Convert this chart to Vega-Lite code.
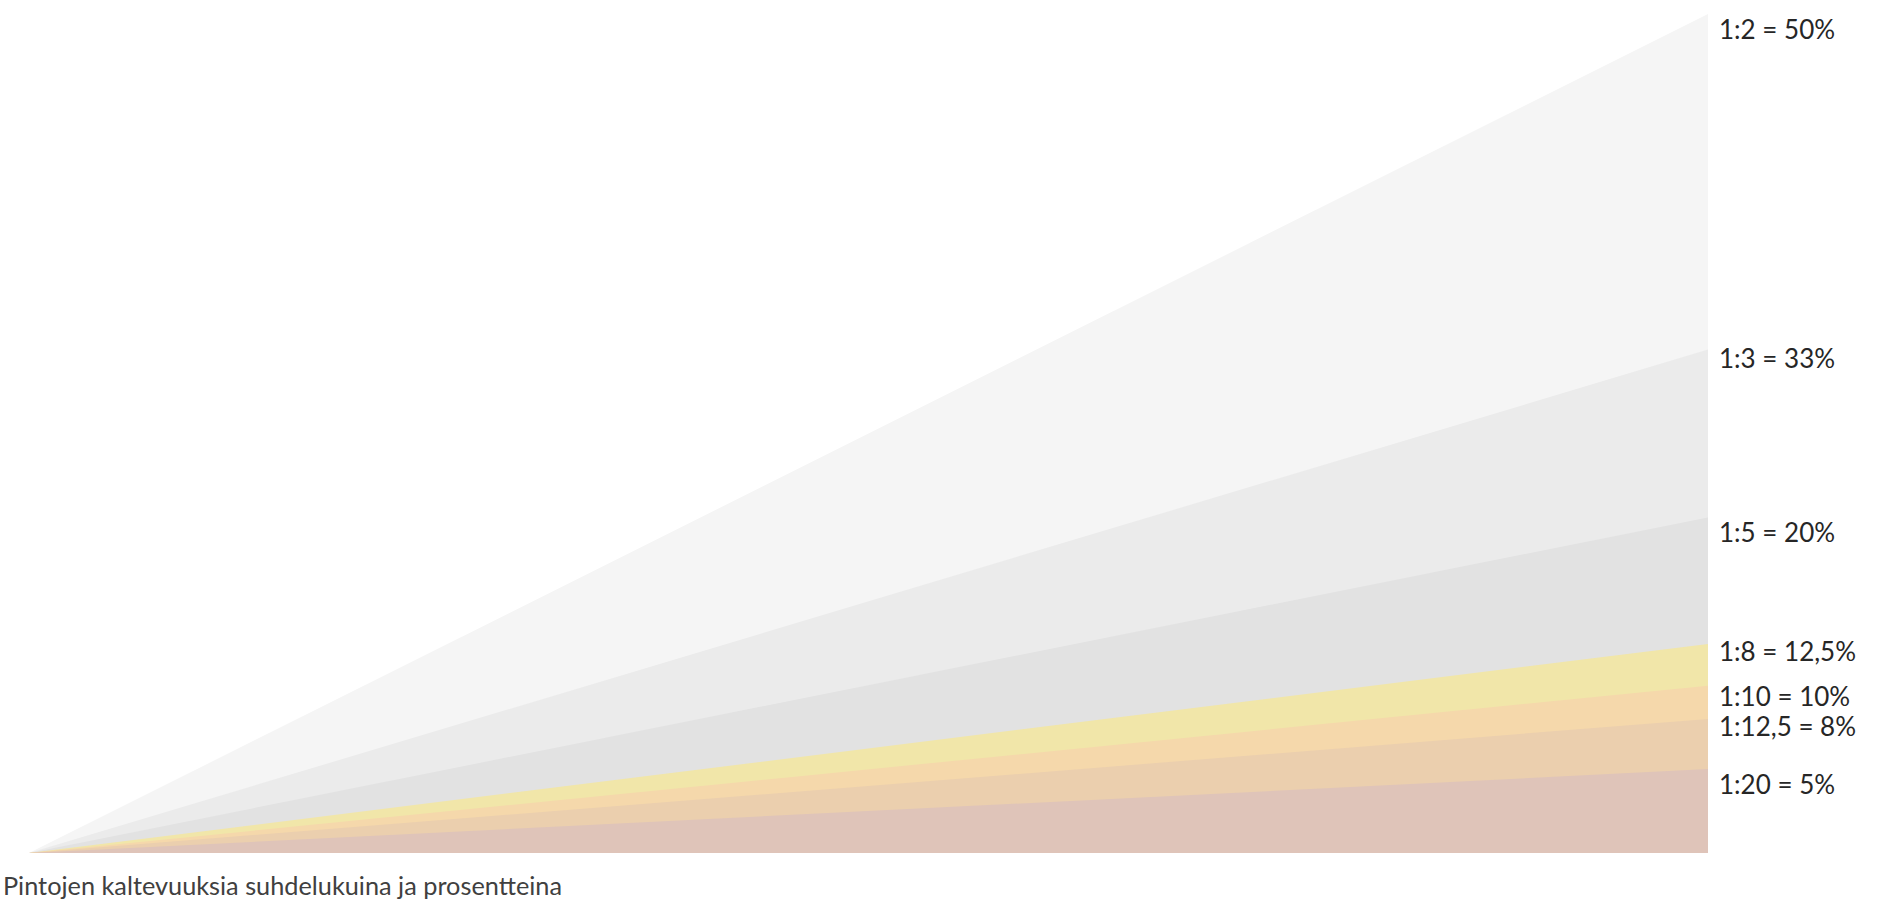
{
  "$schema": "https://vega.github.io/schema/vega-lite/v6.json",
  "autosize": "none",
  "width": 1679,
  "height": 839,
  "padding": {"left": 29, "top": 14, "right": 176, "bottom": 51},
  "background": "white",
  "config": {"view": {"stroke": null}},
  "title": {
    "text": "Pintojen kaltevuuksia suhdelukuina ja prosentteina",
    "orient": "bottom",
    "anchor": "start",
    "frame": "group",
    "dx": -26,
    "offset": 22,
    "font": "Lato",
    "fontSize": 25.3,
    "fontWeight": "normal",
    "color": "#404040"
  },
  "data": {
    "values": [
      {"series": "1:2 = 50%", "x": 0, "y": 0},
      {"series": "1:2 = 50%", "x": 1, "y": 0.5},
      {"series": "1:3 = 33%", "x": 0, "y": 0},
      {"series": "1:3 = 33%", "x": 1, "y": 0.30},
      {"series": "1:5 = 20%", "x": 0, "y": 0},
      {"series": "1:5 = 20%", "x": 1, "y": 0.20},
      {"series": "1:8 = 12,5%", "x": 0, "y": 0},
      {"series": "1:8 = 12,5%", "x": 1, "y": 0.1246},
      {"series": "1:10 = 10%", "x": 0, "y": 0},
      {"series": "1:10 = 10%", "x": 1, "y": 0.0997},
      {"series": "1:12,5 = 8%", "x": 0, "y": 0},
      {"series": "1:12,5 = 8%", "x": 1, "y": 0.0799},
      {"series": "1:20 = 5%", "x": 0, "y": 0},
      {"series": "1:20 = 5%", "x": 1, "y": 0.050}
    ]
  },
  "encoding": {
    "x": {"field": "x", "type": "quantitative", "axis": null, "scale": {"domain": [0, 1], "nice": false}},
    "y": {"field": "y", "type": "quantitative", "axis": null, "scale": {"domain": [0, 0.5], "nice": false}}
  },
  "layer": [
    {"transform": [{"filter": "datum.series == '1:2 = 50%'"}], "mark": {"type": "area", "color": "#f5f5f5", "opacity": 1}},
    {"transform": [{"filter": "datum.series == '1:3 = 33%'"}], "mark": {"type": "area", "color": "#ebebeb", "opacity": 1}},
    {"transform": [{"filter": "datum.series == '1:5 = 20%'"}], "mark": {"type": "area", "color": "#e2e2e2", "opacity": 1}},
    {"transform": [{"filter": "datum.series == '1:8 = 12,5%'"}], "mark": {"type": "area", "color": "#f1e6a9", "opacity": 1}},
    {"transform": [{"filter": "datum.series == '1:10 = 10%'"}], "mark": {"type": "area", "color": "#f5d8ab", "opacity": 1}},
    {"transform": [{"filter": "datum.series == '1:12,5 = 8%'"}], "mark": {"type": "area", "color": "#ebcfae", "opacity": 1}},
    {"transform": [{"filter": "datum.series == '1:20 = 5%'"}], "mark": {"type": "area", "color": "#dfc4b9", "opacity": 1}},
    {
      "transform": [{"filter": "datum.x == 1 && datum.series == '1:2 = 50%'"}],
      "mark": {"type": "text", "align": "left", "baseline": "top", "dx": 11, "dy": 4, "font": "Lato", "fontSize": 26, "color": "#262626"},
      "encoding": {"text": {"field": "series"}}
    },
    {
      "transform": [{"filter": "datum.x == 1 && datum.series == '1:3 = 33%'"}],
      "mark": {"type": "text", "align": "left", "baseline": "top", "dx": 11, "dy": -3, "font": "Lato", "fontSize": 26, "color": "#262626"},
      "encoding": {"text": {"field": "series"}}
    },
    {
      "transform": [{"filter": "datum.x == 1 && datum.series == '1:5 = 20%'"}],
      "mark": {"type": "text", "align": "left", "baseline": "top", "dx": 11, "dy": 4, "font": "Lato", "fontSize": 26, "color": "#262626"},
      "encoding": {"text": {"field": "series"}}
    },
    {
      "transform": [{"filter": "datum.x == 1 && datum.series == '1:8 = 12,5%'"}],
      "mark": {"type": "text", "align": "left", "baseline": "top", "dx": 11, "dy": -4, "font": "Lato", "fontSize": 26, "color": "#262626"},
      "encoding": {"text": {"field": "series"}}
    },
    {
      "transform": [{"filter": "datum.x == 1 && datum.series == '1:10 = 10%'"}],
      "mark": {"type": "text", "align": "left", "baseline": "top", "dx": 11, "dy": -1, "font": "Lato", "fontSize": 26, "color": "#262626"},
      "encoding": {"text": {"field": "series"}}
    },
    {
      "transform": [{"filter": "datum.x == 1 && datum.series == '1:12,5 = 8%'"}],
      "mark": {"type": "text", "align": "left", "baseline": "top", "dx": 11, "dy": -4, "font": "Lato", "fontSize": 26, "color": "#262626"},
      "encoding": {"text": {"field": "series"}}
    },
    {
      "transform": [{"filter": "datum.x == 1 && datum.series == '1:20 = 5%'"}],
      "mark": {"type": "text", "align": "left", "baseline": "top", "dx": 11, "dy": 4, "font": "Lato", "fontSize": 26, "color": "#262626"},
      "encoding": {"text": {"field": "series"}}
    }
  ]
}
